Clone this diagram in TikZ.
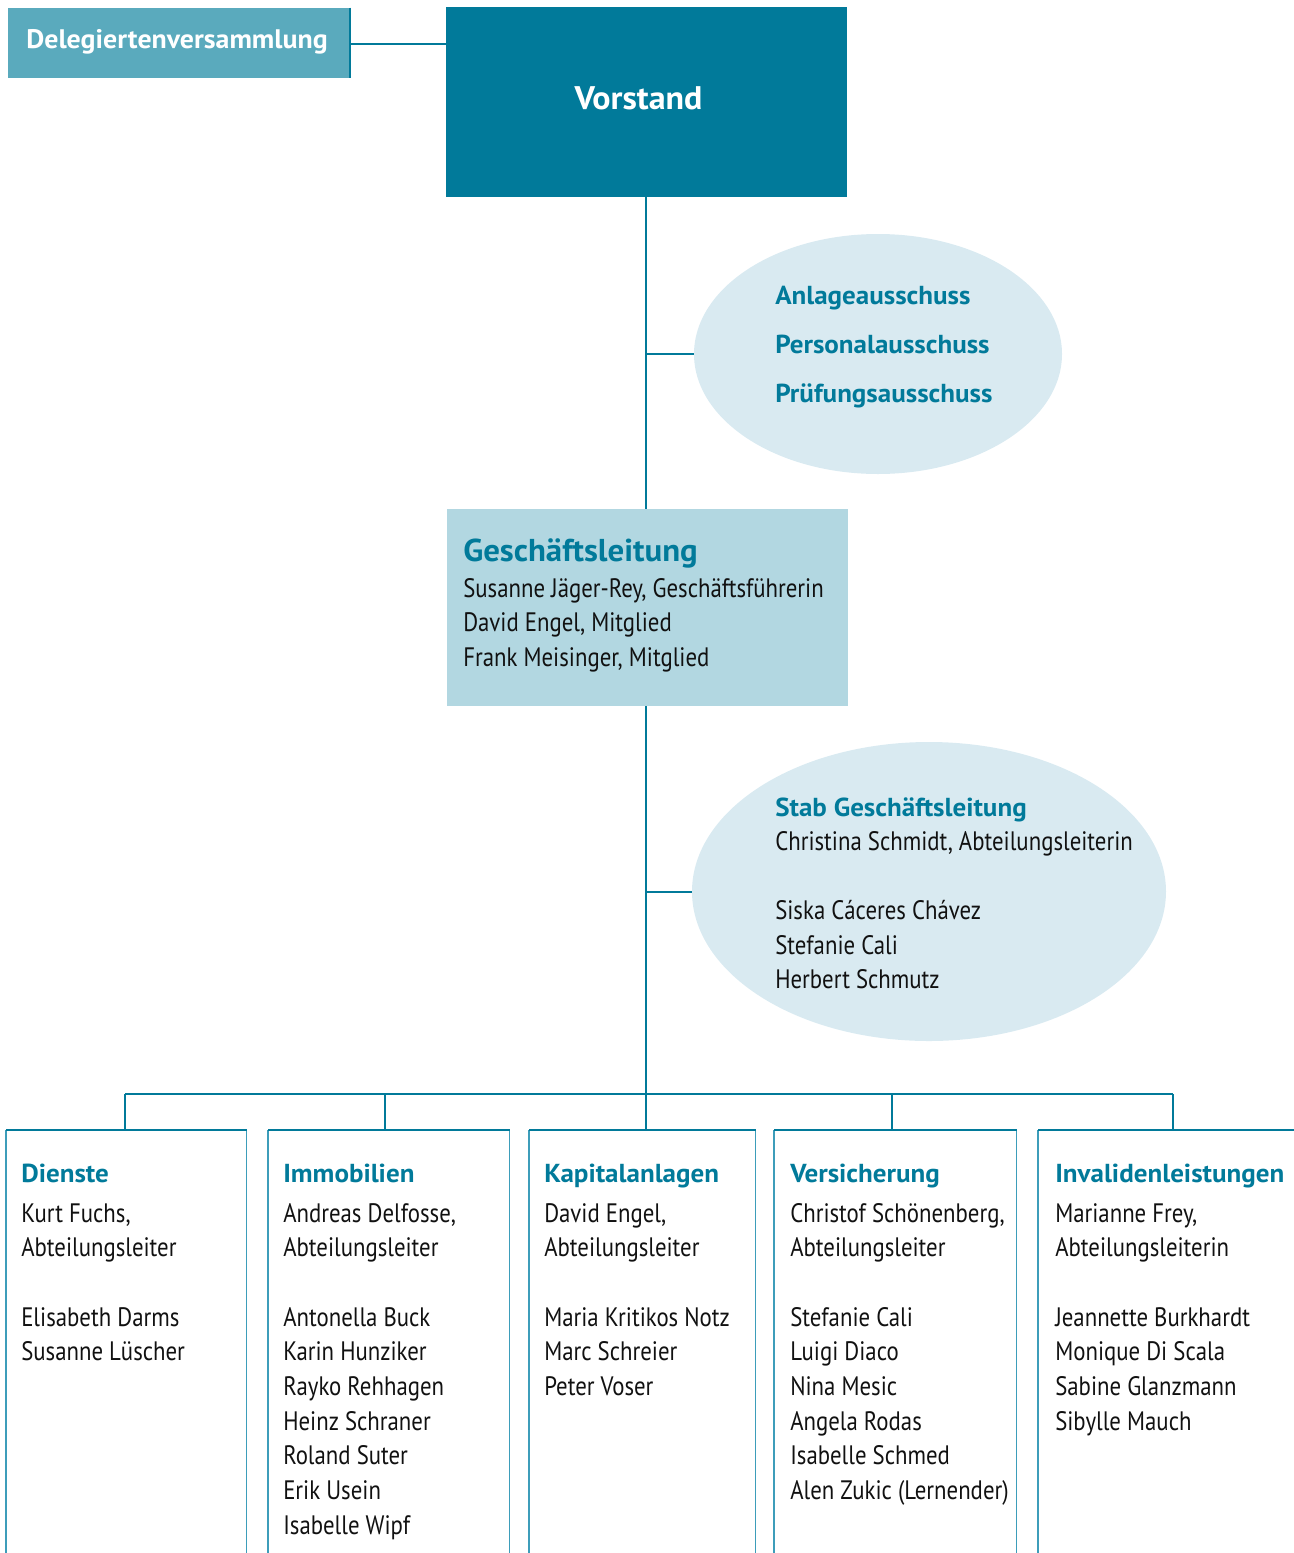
\documentclass[tikz,border=0pt]{standalone}
\usepackage{fontspec}
\setmainfont{PT Sans}[FakeStretch=0.855, BoldFeatures={FakeStretch=1.04}]
\usetikzlibrary{shapes.geometric}
\definecolor{dteal}{HTML}{017A9A}
\definecolor{mteal}{HTML}{5AAABD}
\definecolor{lteal}{HTML}{B2D7E1}
\definecolor{ellc}{HTML}{D9EAF1}
\definecolor{sidec}{HTML}{3D9DBA}
\definecolor{txt}{HTML}{111111}
\newcommand{\lines}[1]{\begin{tabular}[t]{@{}l@{}}#1\end{tabular}}
\begin{document}
\begin{tikzpicture}[x=0.75pt,y=-0.75pt,
  conn/.style={draw=dteal, line width=2pt},
  topline/.style={draw=dteal, line width=1.9pt},
  sideline/.style={draw=sidec, line width=0.9pt},
  body/.style={anchor=base west, inner sep=0pt, text=txt, font=\fontsize{20}{26}\selectfont},
  head/.style={anchor=base west, inner sep=0pt, text=dteal, font=\fontsize{19.5}{24}\selectfont\bfseries},
  aus/.style={anchor=base west, inner sep=0pt, text=dteal, font=\fontsize{19.5}{37.1}\selectfont\bfseries},
  blob/.style={ellipse, fill=ellc, inner sep=0pt},
  dept/.style={rectangle, inner sep=0pt, anchor=north west, minimum height=330pt},
]
\useasboundingbox (0,0) rectangle (1294,1553);
\coordinate (spine) at (646,0);

% top boxes
\node[fill=mteal, inner sep=0pt, minimum width=256.5pt, minimum height=52.5pt] (dv) at (179,43) {};
\draw[draw=dteal, line width=1.2pt] (dv.north east) -- (dv.south east);
\node[text=white, font=\fontsize{20.1}{24}\selectfont\bfseries, inner sep=0pt] (dvt) at (177,42) {Delegiertenversammlung};
\node[fill=dteal, inner sep=0pt, minimum width=300.75pt, minimum height=142.5pt] (vs) at (646.5,102) {};
\node[text=white, font=\fontsize{24.5}{28}\selectfont\bfseries, inner sep=0pt] (vst) at (638.5,98) {Vorstand};
\draw[conn] (dv.east |- 0,44) -- (vs.west |- 0,44);

% Ausschuesse
\node[blob, minimum width=276pt, minimum height=180pt] (e1) at (878,354) {};
\node[aus] (e1t) at (775,304) {\lines{Anlageausschuss\\Personalausschuss\\Prüfungsausschuss}};

% Geschaeftsleitung
\node[fill=lteal, inner sep=0pt, minimum width=300.75pt, minimum height=147.75pt] (gl) at (647.5,607.5) {};
\node[anchor=base west, inner sep=0pt, text=dteal, font=\fontsize{23.7}{28}\selectfont\bfseries] (glt) at (463,561) {Geschäftsleitung};
\node[body] (glb) at (463,597) {\lines{Susanne Jäger-Rey, Geschäftsführerin\\David Engel, Mitglied\\Frank Meisinger, Mitglied}};

% Stab
\node[blob, minimum width=355.5pt, minimum height=224.25pt] (e2) at (929,891.5) {};
\node[head] (e2t) at (775,816) {Stab Geschäftsleitung};
\node[body] (e2b) at (775,850) {\lines{Christina Schmidt, Abteilungsleiterin\\ \\Siska Cáceres Chávez\\Stefanie Cali\\Herbert Schmutz}};

% spine
\draw[conn] (vs.south -| spine) -- (gl.north -| spine);
\draw[conn] (gl.south -| spine) -- (spine |- 0,1094) coordinate (busc);
\draw[conn] (spine |- e1.west) -- (e1.west);
\draw[conn] (spine |- 0,892) -- (e2.west |- 0,892);

% departments
\node[dept, minimum width=180pt] (b1) at (6,1130) {};
\node[dept, minimum width=180.75pt] (b2) at (268,1130) {};
\node[dept, minimum width=169.5pt] (b3) at (529,1130) {};
\node[dept, minimum width=181.5pt] (b4) at (774,1130) {};
\node[dept, minimum width=200pt] (b5) at (1038,1130) {};
\foreach \b in {b1,b2,b3,b4,b5}{
  \draw[sideline] (\b.south west) -- (\b.north west);
  \draw[sideline] (\b.north east) -- (\b.south east);
  \draw[topline] (\b.north west) -- (\b.north east);
}

% bus
\coordinate (d1) at (125,1094);
\coordinate (d2) at (385,1094);
\coordinate (d3) at (646,1094);
\coordinate (d4) at (892,1094);
\coordinate (d5) at (1173,1094);
\draw[conn] (d1) -- (d5);
\draw[conn] (d1) -- (d1 |- b1.north);
\draw[conn] (d2) -- (d2 |- b2.north);
\draw[conn] (d3) -- (d3 |- b3.north);
\draw[conn] (d4) -- (d4 |- b4.north);
\draw[conn] (d5) -- (d5 |- b5.north);

% department texts
\node[head] (h1) at (21,1182) {Dienste};
\node[body] (t1) at (21,1222) {\lines{Kurt Fuchs,\\Abteilungsleiter\\ \\Elisabeth Darms\\Susanne Lüscher}};
\node[head] (h2) at (283,1182) {Immobilien};
\node[body] (t2) at (283,1222) {\lines{Andreas Delfosse,\\Abteilungsleiter\\ \\Antonella Buck\\Karin Hunziker\\Rayko Rehhagen\\Heinz Schraner\\Roland Suter\\Erik Usein\\Isabelle Wipf}};
\node[head] (h3) at (544,1182) {Kapitalanlagen};
\node[body] (t3) at (544,1222) {\lines{David Engel,\\Abteilungsleiter\\ \\Maria Kritikos Notz\\Marc Schreier\\Peter Voser}};
\node[head] (h4) at (790,1182) {Versicherung};
\node[body] (t4) at (790,1222) {\lines{Christof Schönenberg,\\Abteilungsleiter\\ \\Stefanie Cali\\Luigi Diaco\\Nina Mesic\\Angela Rodas\\Isabelle Schmed\\Alen Zukic (Lernender)}};
\node[head] (h5) at (1055,1182) {Invalidenleistungen};
\node[body] (t5) at (1055,1222) {\lines{Marianne Frey,\\Abteilungsleiterin\\ \\Jeannette Burkhardt\\Monique Di Scala\\Sabine Glanzmann\\Sibylle Mauch}};
\end{tikzpicture}
\end{document}
